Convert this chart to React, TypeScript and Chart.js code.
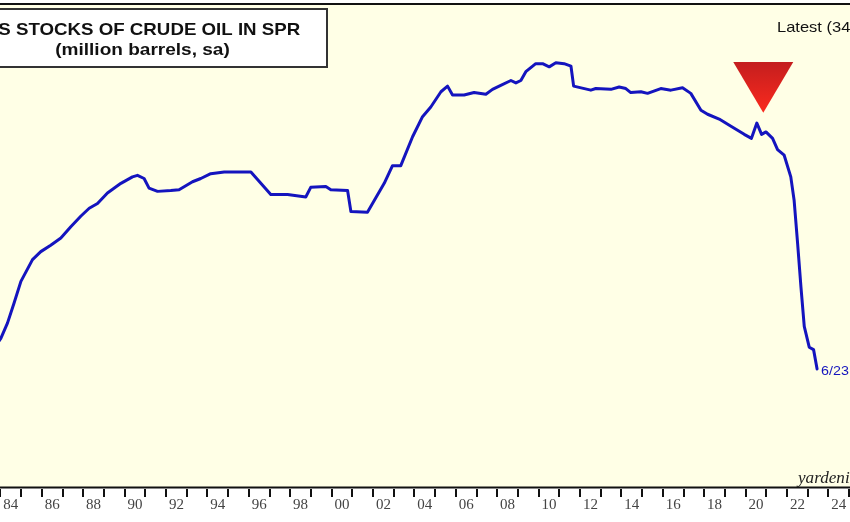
import React, { useEffect, useRef } from "react";
import { Chart, registerables } from "chart.js";

Chart.register(...registerables);

// ---- Data ----
const dates = [
  1983.8, 1984.02, 1984.34, 1984.66, 1984.99, 1985.55, 1985.95, 1986.43, 1986.92, 1987.4,
  1987.88, 1988.29, 1988.69, 1989.17, 1989.82, 1990.38, 1990.62, 1990.94, 1991.18, 1991.59,
  1992.23, 1992.63, 1993.28, 1993.68, 1994.16, 1994.81, 1996.1, 1996.58, 1997.06, 1997.87,
  1998.75, 1998.99, 1999.72, 1999.96, 2000.77, 2000.93, 2001.73, 2002.54, 2002.94, 2003.34,
  2003.91, 2004.39, 2004.79, 2005.28, 2005.6, 2005.84, 2006.4, 2006.88, 2007.45, 2007.77,
  2008.17, 2008.66, 2008.9, 2009.14, 2009.38, 2009.86, 2010.19, 2010.51, 2010.83, 2011.23,
  2011.56, 2011.69, 2012.52, 2012.76, 2013.49, 2013.89, 2014.21, 2014.45, 2014.94, 2015.26,
  2015.9, 2016.39, 2016.95, 2017.35, 2017.84, 2018.16, 2018.72, 2019.29, 2019.93, 2020.28,
  2020.54, 2020.77, 2020.98, 2021.3, 2021.54, 2021.86, 2022.18, 2022.34, 2022.51, 2022.67,
  2022.83, 2023.07, 2023.28, 2023.45,
];
const sprStocks = [
  377, 385, 404, 429, 456, 483, 493, 501, 510, 524,
  537, 547, 553, 566, 578, 586, 588, 584, 572, 568,
  569, 570, 580, 584, 590, 592, 592, 578, 564, 564,
  561, 573, 574, 570, 569, 543, 542, 578, 600, 600,
  636, 661, 673, 692, 699, 688, 688, 691, 689, 695,
  700, 706, 703, 706, 717, 727, 727, 723, 728, 727,
  724, 699, 694, 696, 695, 698, 696, 691, 692, 690,
  696, 694, 697, 690, 669, 664, 658, 649, 639, 634,
  653, 639, 642, 634, 620, 613, 586, 557, 503, 449,
  400, 374, 371, 347,
];

const xTickYears = [
  1984, 1985, 1986, 1987, 1988, 1989, 1990, 1991, 1992, 1993, 1994, 1995, 1996, 1997,
  1998, 1999, 2000, 2001, 2002, 2003, 2004, 2005, 2006, 2007, 2008, 2009, 2010, 2011,
  2012, 2013, 2014, 2015, 2016, 2017, 2018, 2019, 2020, 2021, 2022, 2023, 2024, 2025,
];
const xLabelYears = [
  1984, 1986, 1988, 1990, 1992, 1994, 1996, 1998, 2000, 2002, 2004, 2006, 2008, 2010,
  2012, 2014, 2016, 2018, 2020, 2022, 2024,
];
const xTickLabels = [
  "84", "86", "88", "90", "92", "94", "96", "98", "00", "02", "04", "06", "08", "10",
  "12", "14", "16", "18", "20", "22", "24",
];

const titleLine1 = "US STOCKS OF CRUDE OIL IN SPR";
const titleLine2 = "(million barrels, sa)";
const latestText = "Latest (347.2)";
const lastPointLabel = "6/23";
const sourceText = "yardeni.com";

// marker triangle (in data units)
const markerYear = 2020.85;
const markerTop = 729;
const markerTip = 666;

const X_MIN = 1983.98;
const X_MAX = 2025.04;
const Y_MIN = 200;
const Y_MAX = 800;

const CREAM = "#FFFFE6";
const LINE_BLUE = "#1414BE";

function drawText(
  ctx: CanvasRenderingContext2D,
  text: string,
  x: number,
  y: number,
  font: string,
  color: string,
  align: CanvasTextAlign,
  sx: number
) {
  ctx.save();
  ctx.font = font;
  ctx.fillStyle = color;
  ctx.textAlign = align;
  ctx.textBaseline = "alphabetic";
  ctx.translate(x, y);
  ctx.scale(sx, 1);
  ctx.fillText(text, 0, 0);
  ctx.restore();
}

const decorPlugin = {
  id: "decor",
  beforeDraw(chart: any) {
    const { ctx, chartArea, width, height } = chart;
    ctx.save();
    ctx.fillStyle = "#FFFFFF";
    ctx.fillRect(0, 0, width, height);
    ctx.fillStyle = CREAM;
    ctx.fillRect(chartArea.left, chartArea.top, chartArea.right - chartArea.left, chartArea.bottom - chartArea.top);
    ctx.restore();
  },
  afterDraw(chart: any) {
    const { ctx, chartArea, width } = chart;
    const xs = chart.scales.x;
    const ys = chart.scales.y;
    ctx.save();

    // frame lines
    ctx.strokeStyle = "#111";
    ctx.lineWidth = 2;
    ctx.beginPath();
    ctx.moveTo(0, chartArea.top - 1);
    ctx.lineTo(width, chartArea.top - 1);
    ctx.stroke();
    ctx.beginPath();
    ctx.moveTo(0, chartArea.bottom + 0.5);
    ctx.lineTo(width, chartArea.bottom + 0.5);
    ctx.stroke();

    // tick marks
    ctx.lineWidth = 2;
    xTickYears.forEach((yr) => {
      const px = Math.round(xs.getPixelForValue(yr));
      ctx.beginPath();
      ctx.moveTo(px, chartArea.bottom + 2);
      ctx.lineTo(px, chartArea.bottom + 10);
      ctx.stroke();
    });

    // tick labels (centered in year)
    xLabelYears.forEach((yr, i) => {
      const px = xs.getPixelForValue(yr + 0.5);
      drawText(ctx, xTickLabels[i], px, chartArea.bottom + 22, "15px 'Liberation Serif', 'Times New Roman', serif", "#444", "center", 1);
    });

    // title box
    ctx.fillStyle = "#FFFFFF";
    ctx.fillRect(-10, 9, 337, 58);
    ctx.strokeStyle = "#333";
    ctx.lineWidth = 2;
    ctx.strokeRect(-10, 9, 337, 58);
    drawText(ctx, titleLine1, 142.5, 35, "bold 17px 'Liberation Sans', Arial, sans-serif", "#111", "center", 1.1);
    drawText(ctx, titleLine2, 142.5, 55, "bold 17px 'Liberation Sans', Arial, sans-serif", "#111", "center", 1.12);

    // latest
    drawText(ctx, latestText, 777, 32, "15px 'Liberation Sans', Arial, sans-serif", "#111", "left", 1.1);

    // red triangle marker
    const cx = xs.getPixelForValue(markerYear);
    const ty = ys.getPixelForValue(markerTop);
    const by = ys.getPixelForValue(markerTip);
    const grad = ctx.createLinearGradient(0, ty, 0, by);
    grad.addColorStop(0, "#C41E1E");
    grad.addColorStop(1, "#FA2A1E");
    ctx.fillStyle = grad;
    ctx.beginPath();
    ctx.moveTo(cx - 30, ty);
    ctx.lineTo(cx + 30, ty);
    ctx.lineTo(cx, by);
    ctx.closePath();
    ctx.fill();

    // last point label
    const n = dates.length - 1;
    const lx = xs.getPixelForValue(dates[n]);
    const ly = ys.getPixelForValue(sprStocks[n]);
    drawText(ctx, lastPointLabel, lx + 4, ly + 6, "13px 'Liberation Sans', Arial, sans-serif", LINE_BLUE, "left", 1.1);

    // source
    drawText(ctx, sourceText, 798, chartArea.bottom - 4, "italic 16px 'Liberation Serif', 'Times New Roman', serif", "#222", "left", 1.07);

    ctx.restore();
  },
};

export default function App() {
  const canvasRef = useRef<HTMLCanvasElement | null>(null);

  useEffect(() => {
    const canvas = canvasRef.current;
    if (!canvas) return;
    const chart = new Chart(canvas, {
      type: "line",
      data: {
        datasets: [
          {
            data: dates.map((d, i) => ({ x: d, y: sprStocks[i] })),
            borderColor: LINE_BLUE,
            borderWidth: 3,
            pointRadius: 0,
            tension: 0,
            fill: false,
            borderJoinStyle: "round",
            borderCapStyle: "round",
          },
        ],
      },
      options: {
        animation: false,
        responsive: false,
        devicePixelRatio: 1,
        layout: { padding: { left: 0, right: 0, top: 5, bottom: 35 } },
        plugins: {
          legend: { display: false },
          tooltip: { enabled: false },
          title: { display: false },
        },
        scales: {
          x: { type: "linear", min: X_MIN, max: X_MAX, display: false },
          y: { type: "linear", min: Y_MIN, max: Y_MAX, display: false },
        },
      },
      plugins: [decorPlugin],
    } as any);
    return () => chart.destroy();
  }, []);

  return (
    <div style={{ position: "fixed", left: 0, top: 0, width: 850, height: 522 }}>
      <canvas ref={canvasRef} width={850} height={522} />
    </div>
  );
}
